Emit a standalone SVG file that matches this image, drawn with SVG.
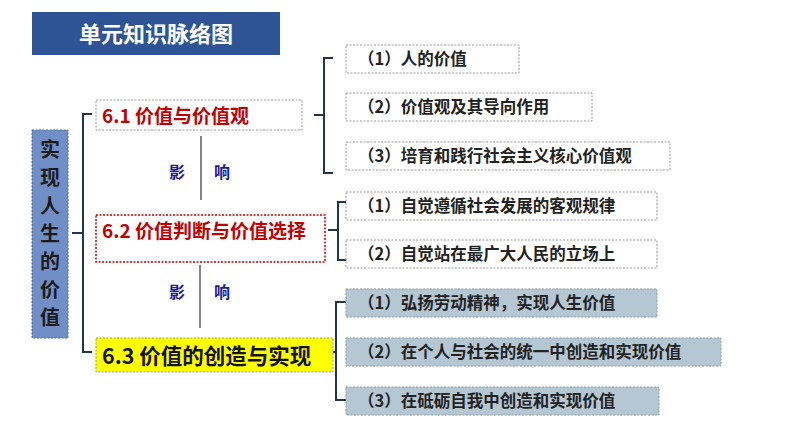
<svg xmlns="http://www.w3.org/2000/svg" width="794" height="447" viewBox="0 0 794 447">
<style>
text{font-family:"Noto Sans CJK SC","Liberation Sans",sans-serif;font-weight:bold}
.sub{fill:#fff;stroke:#999;stroke-dasharray:2 1.5;stroke-width:1}
.sub2{fill:#b5c7d3;stroke:#8a9aa5;stroke-dasharray:2 1.5;stroke-width:1}
.st{font-size:16.5px;fill:#222}
.br{fill:none;stroke:#1f3552;stroke-width:2}
.ln{stroke:#333;stroke-width:1.2}
.yx{font-size:16px;fill:#1a1a9a}
.vt{font-size:20px;fill:#1a1a1a}
</style>
<rect width="794" height="447" fill="#fff"/>
<g id="title"><rect x="32" y="12" width="248" height="43" fill="#2f5496"/><text x="156" y="42" text-anchor="middle" font-size="22" fill="#fff">单元知识脉络图</text></g>
<g id="main"><rect x="32" y="130" width="36" height="208" fill="#6f8fc6" stroke="#4a6aa0" stroke-dasharray="2 1.5"/>
<text class="vt" x="50" y="157" text-anchor="middle">实</text>
<text class="vt" x="50" y="185" text-anchor="middle">现</text>
<text class="vt" x="50" y="213" text-anchor="middle">人</text>
<text class="vt" x="50" y="241" text-anchor="middle">生</text>
<text class="vt" x="50" y="269" text-anchor="middle">的</text>
<text class="vt" x="50" y="297" text-anchor="middle">价</text>
<text class="vt" x="50" y="325" text-anchor="middle">值</text></g>
<g id="connectors">
<path class="br" d="M92 114H83V352H92M72 233H83"/>
<path class="br" d="M333 58H324V173H333M314 115H324"/>
<path class="br" d="M347 202H338V260H347M328 230H338"/>
<path class="br" d="M346 302H336V400H346M330 352H336"/>
<line class="ln" x1="201" y1="136" x2="201" y2="200"/>
<line class="ln" x1="200" y1="265" x2="200" y2="328"/>
<text class="yx" x="169" y="178">影</text><text class="yx" x="214" y="178">响</text>
<text class="yx" x="169" y="298">影</text><text class="yx" x="214" y="298">响</text>
</g>
<g id="n61"><rect x="96" y="100" width="206" height="30" fill="#fff" stroke="#999" stroke-dasharray="2 1.5"/><text x="102" y="123" font-size="19" fill="#c00000">6.1 价值与价值观</text></g>
<g id="n62"><rect x="96" y="215" width="229" height="47" fill="#fff" stroke="#c00000" stroke-width="1.5" stroke-dasharray="2 1.5"/><text x="102" y="238" font-size="19" fill="#c00000">6.2 价值判断与价值选择</text></g>
<g id="n63"><rect x="96" y="338" width="237" height="34" fill="#ffff00" stroke="#999" stroke-dasharray="2 1.5"/><text x="102" y="364" font-size="21.5" fill="#111">6.3 价值的创造与实现</text></g>
<g id="s1"><rect class="sub" x="346" y="45" width="173" height="28"/><text class="st" x="358" y="65">（1）人的价值</text></g>
<g id="s2"><rect class="sub" x="346" y="93" width="246" height="28"/><text class="st" x="358" y="113">（2）价值观及其导向作用</text></g>
<g id="s3"><rect class="sub" x="346" y="142" width="324" height="28"/><text class="st" x="358" y="162">（3）培育和践行社会主义核心价值观</text></g>
<g id="s4"><rect class="sub" x="346" y="192" width="311" height="28"/><text class="st" x="358" y="212">（1）自觉遵循社会发展的客观规律</text></g>
<g id="s5"><rect class="sub" x="346" y="240" width="311" height="28"/><text class="st" x="358" y="260">（2）自觉站在最广大人民的立场上</text></g>
<g id="s6"><rect class="sub2" x="346" y="289" width="311" height="28"/><text class="st" x="358" y="309">（1）弘扬劳动精神，实现人生价值</text></g>
<g id="s7"><rect class="sub2" x="346" y="338" width="375" height="28"/><text class="st" x="358" y="358">（2）在个人与社会的统一中创造和实现价值</text></g>
<g id="s8"><rect class="sub2" x="346" y="387" width="313" height="28"/><text class="st" x="358" y="407">（3）在砥砺自我中创造和实现价值</text></g>
</svg>
